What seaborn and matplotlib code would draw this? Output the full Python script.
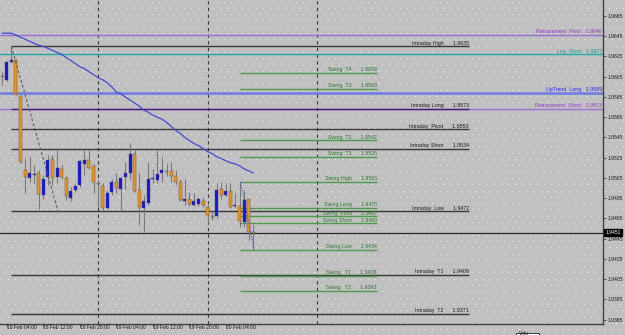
import numpy as np
import matplotlib
matplotlib.use("Agg")
import matplotlib.pyplot as plt
import seaborn as sns
from matplotlib.patches import Rectangle
from matplotlib import font_manager

# ---------------- data ----------------
# hourly candles, index 0 = 18 Feb 03:00
opens = [1.9606, 1.9602, 1.9620, 1.9622, 1.9586, 1.9513, 1.9505, 1.9508, 1.9510, 1.9488,
         1.9506, 1.9524, 1.9506, 1.9514, 1.9505, 1.9485, 1.9493, 1.9498, 1.9519, 1.9523,
         1.9517, 1.9500, 1.9497, 1.9475, 1.9491, 1.9501, 1.9494, 1.9506, 1.9510, 1.9529,
         1.9493, 1.9475, 1.9480, 1.9504, 1.9503, 1.9510, 1.9512, 1.9512, 1.9507, 1.9501,
         1.9482, 1.9484, 1.9478, 1.9479, 1.9482, 1.9476, 1.9467, 1.9467, 1.9494, 1.9488,
         1.9492, 1.9477, 1.9477, 1.9461, 1.9484, 1.9452]
highs = [1.9610, 1.9621, 1.9635, 1.9623, 1.9587, 1.9525, 1.9526, 1.9518, 1.9513, 1.9508,
         1.9528, 1.9528, 1.9534, 1.9518, 1.9507, 1.9496, 1.9500, 1.9523, 1.9533, 1.9533,
         1.9519, 1.9503, 1.9500, 1.9493, 1.9504, 1.9510, 1.9506, 1.9521, 1.9540, 1.9533,
         1.9510, 1.9488, 1.9521, 1.9514, 1.9533, 1.9526, 1.9520, 1.9521, 1.9513, 1.9504,
         1.9504, 1.9491, 1.9490, 1.9486, 1.9486, 1.9478, 1.9473, 1.9500, 1.9501, 1.9500,
         1.9500, 1.9490, 1.9501, 1.9493, 1.9485, 1.9459]
lows = [1.9597, 1.9601, 1.9619, 1.9587, 1.9520, 1.9490, 1.9501, 1.9500, 1.9474, 1.9484,
        1.9498, 1.9498, 1.9500, 1.9504, 1.9483, 1.9482, 1.9491, 1.9496, 1.9508, 1.9514,
        1.9490, 1.9476, 1.9473, 1.9474, 1.9488, 1.9490, 1.9473, 1.9494, 1.9503, 1.9491,
        1.9459, 1.9452, 1.9478, 1.9500, 1.9500, 1.9501, 1.9507, 1.9501, 1.9498, 1.9482,
        1.9478, 1.9477, 1.9477, 1.9477, 1.9476, 1.9460, 1.9463, 1.9465, 1.9484, 1.9486,
        1.9475, 1.9475, 1.9457, 1.9457, 1.9444, 1.9434]
closes = [1.9605, 1.9620, 1.9622, 1.9588, 1.9521, 1.9506, 1.9510, 1.9509, 1.9489, 1.9504,
          1.9523, 1.9505, 1.9515, 1.9506, 1.9487, 1.9492, 1.9497, 1.9522, 1.9523, 1.9515,
          1.9501, 1.9499, 1.9475, 1.9490, 1.9501, 1.9495, 1.9505, 1.9510, 1.9529, 1.9492,
          1.9476, 1.9482, 1.9504, 1.9505, 1.9509, 1.9513, 1.9511, 1.9507, 1.9501, 1.9483,
          1.9484, 1.9479, 1.9482, 1.9484, 1.9478, 1.9468, 1.9466, 1.9493, 1.9488, 1.9492,
          1.9476, 1.9478, 1.9462, 1.9483, 1.9452, 1.9451]

ma_values = [1.9648, 1.9648, 1.9648, 1.9646, 1.9644, 1.9642, 1.9640, 1.9638, 1.9636, 1.9635,
             1.9633, 1.9631, 1.9629, 1.9627, 1.9624, 1.9621, 1.9618, 1.9615, 1.9613, 1.9610,
             1.9607, 1.9604, 1.9602, 1.9599, 1.9595, 1.9590, 1.9588, 1.9585, 1.9582, 1.9579,
             1.9576, 1.9572, 1.9570, 1.9567, 1.9565, 1.9563, 1.9560, 1.9556, 1.9552, 1.9549,
             1.9545, 1.9542, 1.9539, 1.9537, 1.9534, 1.9531, 1.9529, 1.9526, 1.9524, 1.9522,
             1.9520, 1.9519, 1.9517, 1.9514, 1.9512, 1.9510]

zigzag_x = [2, 12.3]
zigzag_y = [1.9635, 1.9471]
swing_path_x = [52.2, 55.2]
swing_path_y = [1.9501, 1.9434]

intraday_names = ["Intraday High", "Intraday Long", "Intraday  Pivot", "Intraday Short",
                  "Intraday  Low", "Intraday  T1", "Intraday  T2"]
intraday_values = [1.9635, 1.9573, 1.9553, 1.9534, 1.9472, 1.9409, 1.9371]

swing_names = ["Swing  T4", "Swing  T3", "Swing  T2", "Swing  T1", "Swing High",
               "Swing Long", "Swing  Pivot", "Swing Short", "Swing Low", "Swing   T1", "Swing   T2"]
swing_values = [1.9609, 1.9593, 1.9542, 1.9526, 1.9501, 1.9475, 1.9467, 1.9460, 1.9434,
                1.9408, 1.9393]

level_names = ["Retracement  Pivot", "Leg  Short", "UpTrend  Long", "Retracement  Short"]
level_values = [1.9646, 1.9627, 1.9589, 1.9573]

current_price = 1.9451

separator_idx = [21, 45, 69]
xtick_idx = [-7, 1, 9, 17, 25, 33, 41, 49]
xtick_labels = ["17 Feb 20:00", "18 Feb 04:00", "18 Feb 12:00", "18 Feb 20:00",
                "19 Feb 04:00", "19 Feb 12:00", "19 Feb 20:00", "20 Feb 04:00"]
ytick_values = [1.9665, 1.9645, 1.9625, 1.9605, 1.9585, 1.9565, 1.9545, 1.9525,
                1.9505, 1.9485, 1.9465, 1.9445, 1.9425, 1.9405, 1.9385, 1.9365]

# ---------------- style ----------------
sns.set_style("white")
installed = {f.name for f in font_manager.fontManager.ttflist}
fam = [f for f in ["Liberation Sans Narrow", "Liberation Sans"] if f in installed] + ["DejaVu Sans"]
plt.rcParams["font.family"] = fam
narrow = fam[0] == "Liberation Sans Narrow"

W, H = 625, 335
fig = plt.figure(figsize=(W / 100, H / 100), dpi=100)

# dotted background texture (decoration)
tex = np.full((H, W, 3), 192, dtype=np.uint8)
for r, yy in enumerate(np.arange(2.0, H, 6.3)):
    off = 3.6 if r % 2 else 0.0
    xs = np.arange(1.0 + off, W, 7.2).astype(int)
    tex[int(yy), xs] = 236
bg = fig.add_axes([0, 0, 1, 1], zorder=-10)
bg.imshow(tex, aspect="auto", interpolation="nearest")
bg.axis("off")

ax = fig.add_axes([0, 11 / H, 603 / W, 324 / H])
ax.patch.set_alpha(0)

x_left = (0 - 2.3) / 4.5625
x_right = (603 - 2.3) / 4.5625
ax.set_xlim(x_left, x_right)
ax.set_ylim(1.93607, 1.96808)

idx = np.arange(len(opens))
o = np.array(opens); c = np.array(closes); hi = np.array(highs); lo = np.array(lows)

# period separators
for s in separator_idx:
    ax.axvline(s, color="#3a3a3a", lw=0.8, ls=(0, (3, 3)), zorder=1)

fs = 4.4 if narrow else 3.8
fs_ax = 4.3 if narrow else 3.6

# full-width levels
level_line_colors = ["#9c6cd8", "#22a9a9", "#6f7ae8", "#a070dc"]
level_text_colors = ["#9a34d2", "#1a9999", "#2a2ae8", "#9a34d2"]
level_lw = [1.0, 1.0, 1.8, 1.0]
for name, v, lc, tc, lw in zip(level_names, level_values, level_line_colors, level_text_colors, level_lw):
    ax.axhline(v, color=lc, lw=lw, zorder=2)
    ax.annotate(f"{name}   {v:.4f}", xy=(131.4, v), xytext=(0, 0.6), textcoords="offset points",
                ha="right", va="bottom", fontsize=fs, color=tc, zorder=5)

# intraday levels
intraday_colors = ["#3a3a3a", "#4a1a78", "#3a3a3a", "#3a3a3a", "#3a3a3a", "#3a3a3a", "#3a3a3a"]
for name, v, lc in zip(intraday_names, intraday_values, intraday_colors):
    ax.hlines(v, 2, 102.3, color=lc, lw=1.0, zorder=2)
    ax.annotate(f"{name}      {v:.4f}", xy=(102.3, v), xytext=(0, 0.6), textcoords="offset points",
                ha="right", va="bottom", fontsize=fs, color="#1a1a1a", zorder=5)

# swing levels
for name, v in zip(swing_names, swing_values):
    ax.hlines(v, 52, 82.1, color="#4e9a4e", lw=1.0, zorder=2)
    ax.annotate(f"{name}      {v:.4f}", xy=(82.1, v), xytext=(0, 0.6), textcoords="offset points",
                ha="right", va="bottom", fontsize=fs, color="#2a7a2a", zorder=5)

# current price line
ax.axhline(current_price, color="#2a2a2a", lw=0.9, zorder=2)

# candles
ax.vlines(idx, lo, hi, color="#7a7a7a", lw=0.8, zorder=3)
body_bottom = np.minimum(o, c)
body_h = np.maximum(np.abs(c - o), 0.00003)
colors = np.where(c >= o, "#1414e6", "#f5930f")
colors = np.where(np.abs(c - o) < 0.00005, "#6a6a6a", colors)
ax.bar(idx, body_h, bottom=body_bottom, width=0.66, color=colors,
       edgecolor="#505050", linewidth=0.3, zorder=4)

# zigzag and swing path
sns.lineplot(x=zigzag_x, y=zigzag_y, ax=ax, color="#5a5a5a", lw=0.8, ls=(0, (2.5, 2)), zorder=4)
sns.lineplot(x=swing_path_x, y=swing_path_y, ax=ax, color="#3a4ae0", lw=0.8, ls=(0, (1, 1.5)), zorder=4)

# moving average
sns.lineplot(x=idx, y=ma_values, ax=ax, color="#3f4ad8", lw=0.9, zorder=6)

# axes styling
for side in ["top", "left"]:
    ax.spines[side].set_visible(False)
for side in ["right", "bottom"]:
    ax.spines[side].set_visible(True)
    ax.spines[side].set_color("#404040")
    ax.spines[side].set_linewidth(1.0)

ax.yaxis.tick_right()
ax.set_yticks(ytick_values)
ax.set_yticklabels([f"{v:.4f}" for v in ytick_values])
ax.tick_params(axis="y", direction="out", length=2.2, width=0.6, color="#404040",
               labelsize=fs_ax, labelcolor="#1a1a1a", pad=0.8, right=True, left=False)
vis_ticks = [t for t in xtick_idx if x_left <= t <= x_right]
ax.set_xticks(vis_ticks)
ax.set_xticklabels([])
ax.tick_params(axis="x", direction="out", length=2.2, width=0.6, color="#404040", bottom=True)
ax.set_xlabel("")
ax.set_ylabel("")
ax.grid(False)

trans = matplotlib.transforms.blended_transform_factory(ax.transData, ax.transAxes)
for t, lab in zip(xtick_idx, xtick_labels):
    ax.text(t, -0.004, lab, transform=trans, ha="left", va="top", fontsize=fs_ax,
            color="#1a1a1a", clip_on=False)

# current price tag
ax.annotate(f"{current_price:.4f}", xy=(1.0, current_price), xycoords=("axes fraction", "data"),
            xytext=(1.6, 0), textcoords="offset points", ha="left", va="center",
            fontsize=fs_ax, color="white", zorder=10,
            bbox=dict(boxstyle="square,pad=0.2", fc="black", ec="black"), annotation_clip=False)

# small volume tag at bottom edge
fig.patches.append(Rectangle((516 / W, -0.01), 23 / W, 5 / H, transform=fig.transFigure,
                             fc="white", ec="#202020", lw=0.6, zorder=20))
fig.text(519 / W, 1.5 / H, "Volu", fontsize=fs_ax, color="#1a1a1a", va="center", zorder=21)

fig.savefig("out.png", dpi=100)
